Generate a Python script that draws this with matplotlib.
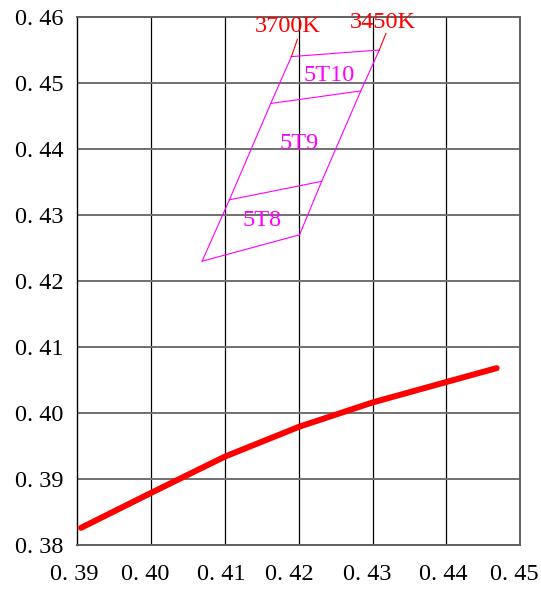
import matplotlib
matplotlib.use("Agg")
import matplotlib.pyplot as plt
from matplotlib.transforms import ScaledTranslation

# ---- data ----
x_ticks = [0.39, 0.40, 0.41, 0.42, 0.43, 0.44, 0.45]
x_tick_labels = ["0. 39", "0. 40", "0. 41", "0. 42", "0. 43", "0. 44", "0. 45"]
y_ticks = [0.38, 0.39, 0.40, 0.41, 0.42, 0.43, 0.44, 0.45, 0.46]
y_tick_labels = ["0. 38", "0. 39", "0. 40", "0. 41", "0. 42", "0. 43", "0. 44", "0. 45", "0. 46"]

# red locus curve
curve_x = [0.3905, 0.400, 0.410, 0.420, 0.430, 0.440, 0.4468]
curve_y = [0.3826, 0.3879, 0.3934, 0.3979, 0.4016, 0.4047, 0.4068]

# magenta quadrangle: left edge (3700K) and right edge (3450K) points, bottom to top
left_x = [0.4069, 0.4106, 0.4162, 0.4190]
left_y = [0.4230, 0.4323, 0.4469, 0.4540]
right_x = [0.4201, 0.4231, 0.4284, 0.4309]
right_y = [0.4270, 0.4351, 0.4488, 0.4550]

# red leader lines from top corners to CCT labels
leader_x = [[0.4190, 0.4198], [0.4309, 0.4318]]
leader_y = [[0.4540, 0.4566], [0.4550, 0.4575]]
cct_labels = ["3700K", "3450K"]
cct_pos = [(0.4185, 0.4586), (0.4314, 0.4591)]

zone_labels = ["5T8", "5T9", "5T10"]
zone_pos = [(0.4150, 0.4292), (0.4200, 0.4409), (0.4241, 0.4511)]

# ---- figure ----
fig = plt.figure(figsize=(5.41, 5.97), dpi=100)
ax = fig.add_axes([77.3 / 541, 52 / 597, (520.3 - 77.3) / 541, (545 - 17) / 597])
ax.set_xlim(0.39, 0.45)
ax.set_ylim(0.38, 0.46)

for xv in x_ticks[1:-1]:
    ax.axvline(xv, color="black", lw=0.9, zorder=1)
for yv in y_ticks[1:-1]:
    ax.axhline(yv, color="#707070", lw=1.4, zorder=1)

for side in ["top", "right", "bottom"]:
    ax.spines[side].set_color("#606060")
    ax.spines[side].set_linewidth(1.4)
ax.spines["left"].set_color("black")
ax.spines["left"].set_linewidth(1.0)

font = "Liberation Serif"
ax.set_xticks(x_ticks)
ax.set_xticklabels(x_tick_labels, fontfamily=font, fontsize=17.5)
ax.set_yticks(y_ticks)
ax.set_yticklabels(y_tick_labels, fontfamily=font, fontsize=17.5)
ax.tick_params(axis="x", length=0, pad=14)
ax.tick_params(axis="y", length=0, pad=10)

# x tick labels sit slightly left of their grid lines in the reference
shifts = [-3, -6, -4, -9, -5, -3, -6]
for lab, s in zip(ax.get_xticklabels(), shifts):
    lab.set_transform(lab.get_transform() + ScaledTranslation(s / 100, 0, fig.dpi_scale_trans))

# red curve
ax.plot(curve_x, curve_y, color="#ff0000", lw=4.3, solid_capstyle="round",
        solid_joinstyle="round", zorder=3)

# magenta quadrangle
mag = "#ff00ff"
ax.plot(left_x, left_y, color=mag, lw=0.8, zorder=2)
ax.plot(right_x, right_y, color=mag, lw=0.8, zorder=2)
for i in range(len(left_x)):
    ax.plot([left_x[i], right_x[i]], [left_y[i], right_y[i]], color=mag, lw=0.8, zorder=2)

for lx, ly in zip(leader_x, leader_y):
    ax.plot(lx, ly, color="#ff0000", lw=0.8, zorder=2)

for lab, (px, py) in zip(cct_labels, cct_pos):
    ax.text(px, py, lab, color="#ff0000", fontfamily=font, fontsize=17.5,
            ha="center", va="center", zorder=4)

for lab, (px, py) in zip(zone_labels, zone_pos):
    ax.text(px, py, lab, color=mag, fontfamily=font, fontsize=17.5,
            ha="center", va="center", zorder=4)

fig.savefig("out.png", dpi=100)
